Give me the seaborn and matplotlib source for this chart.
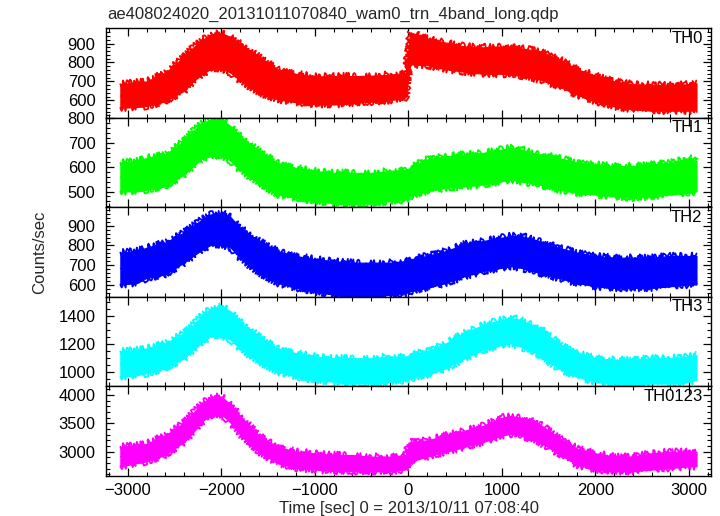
import numpy as np
import pandas as pd
import matplotlib
matplotlib.use("Agg")
import matplotlib.pyplot as plt
from matplotlib.ticker import MultipleLocator
import seaborn as sns

# ---- data (lower / upper envelope) ----
time_sec = [-3080, -2900, -2800, -2600, -2400, -2300, -2200, -2100, -2000, -1900,
            -1800, -1600, -1400, -1200, -1000, -800, -600, -400, -200, -30,
            20, 200, 400, 600, 800, 1000, 1100, 1200, 1400, 1600,
            1800, 2000, 2200, 2400, 2600, 2800, 3000, 3080]

th0_low = [560, 565, 570, 595, 650, 700, 740, 770, 770, 745,
           705, 640, 605, 590, 580, 578, 585, 592, 600, 615,
           790, 785, 765, 750, 740, 740, 735, 730, 710, 675,
           630, 595, 568, 552, 545, 545, 545, 550]
th0_high = [685, 695, 700, 745, 830, 880, 920, 950, 955, 935,
            900, 830, 765, 740, 725, 728, 728, 730, 735, 745,
            960, 925, 905, 885, 880, 885, 880, 875, 860, 820,
            765, 730, 700, 685, 682, 680, 685, 690]

th1_low = [501, 501, 508, 522, 570, 604, 638, 645, 652, 625,
           590, 536, 488, 474, 460, 453, 447, 453, 460, 467,
           481, 501, 515, 522, 529, 542, 549, 542, 529, 508,
           495, 488, 481, 474, 481, 488, 495, 501]
th1_high = [618, 625, 638, 652, 707, 748, 782, 796, 796, 768,
            727, 666, 618, 597, 584, 577, 577, 577, 584, 590,
            597, 632, 645, 652, 659, 673, 679, 673, 652, 638,
            618, 611, 604, 604, 611, 618, 638, 625]

th2_low = [602, 610, 636, 653, 713, 747, 781, 806, 806, 789,
           738, 661, 610, 585, 567, 550, 542, 542, 550, 559,
           567, 585, 610, 644, 670, 687, 695, 687, 661, 636,
           610, 593, 585, 585, 585, 593, 602, 602]
th2_high = [764, 772, 789, 815, 866, 900, 934, 960, 968, 943,
            891, 823, 772, 747, 730, 721, 713, 713, 713, 721,
            730, 747, 772, 806, 823, 840, 849, 849, 823, 789,
            764, 747, 738, 738, 738, 747, 747, 747]

th3_low = [969, 981, 993, 1029, 1101, 1160, 1220, 1268, 1268, 1232,
           1172, 1077, 1005, 969, 945, 933, 921, 921, 933, 945,
           957, 981, 1029, 1101, 1160, 1196, 1208, 1184, 1125, 1029,
           969, 933, 921, 909, 921, 921, 933, 945]
th3_high = [1149, 1160, 1172, 1208, 1280, 1340, 1412, 1460, 1472, 1436,
            1364, 1256, 1172, 1137, 1113, 1101, 1101, 1101, 1113, 1113,
            1125, 1149, 1208, 1280, 1340, 1376, 1388, 1376, 1316, 1208,
            1137, 1101, 1089, 1089, 1101, 1101, 1113, 1125]

th0123_low = [2743, 2800, 2829, 2943, 3171, 3343, 3543, 3657, 3657, 3514,
              3314, 3000, 2800, 2714, 2686, 2657, 2657, 2657, 2657, 2686,
              2829, 2914, 3000, 3086, 3171, 3286, 3314, 3286, 3171, 2971,
              2771, 2686, 2657, 2657, 2686, 2714, 2743, 2743]
th0123_high = [3086, 3114, 3143, 3286, 3514, 3686, 3857, 3971, 3971, 3829,
               3629, 3286, 3086, 3000, 2971, 2943, 2943, 2914, 2914, 2943,
               3171, 3200, 3286, 3371, 3457, 3600, 3629, 3600, 3486, 3257,
               3057, 2971, 2914, 2914, 2971, 3000, 3000, 3000]

band_names = ["TH0", "TH1", "TH2", "TH3", "TH0123"]
band_low = [th0_low, th1_low, th2_low, th3_low, th0123_low]
band_high = [th0_high, th1_high, th2_high, th3_high, th0123_high]
band_colors = ["#ff0000", "#00ff00", "#0000ff", "#00ffff", "#ff00ff"]
y_limits = [(507, 980), (435, 802), (539, 993), (899, 1539), (2572, 4149)]
y_major = [100, 100, 100, 200, 500]
y_minor = [20, 20, 20, 50, 100]

title_text = "ae408024020_20131011070840_wam0_trn_4band_long.qdp"
x_label = "Time [sec] 0 = 2013/10/11 07:08:40"
y_label = "Counts/sec"

# ---- style ----
sns.set_style("ticks")
plt.rcParams["font.family"] = ["Liberation Sans", "DejaVu Sans"]
plt.rcParams["font.size"] = 12
plt.rcParams["axes.linewidth"] = 1.0

fig, axes = plt.subplots(5, 1, sharex=True, figsize=(7.2, 5.16), dpi=100)
fig.subplots_adjust(left=0.147, right=0.9875, top=0.945, bottom=0.0775, hspace=0)

for i, ax in enumerate(axes):
    df = pd.DataFrame({
        "t": list(time_sec) + list(time_sec),
        "rate": list(band_low[i]) + list(band_high[i]),
    })
    sns.lineplot(data=df, x="t", y="rate", ax=ax, estimator="mean",
                 errorbar=("pi", 100), color=band_colors[i], lw=0.8,
                 err_kws={"alpha": 1.0, "linewidth": 0.8,
                          "edgecolor": band_colors[i]})
    # jagged outline of the noisy envelope (edges drawn from the same data)
    n_before = len(ax.lines)
    sns.lineplot(x=time_sec, y=band_low[i], ax=ax, color=band_colors[i], lw=1.3)
    sns.lineplot(x=time_sec, y=band_high[i], ax=ax, color=band_colors[i], lw=1.3)
    for ln in ax.lines[n_before:]:
        ln.set_sketch_params(scale=3.5, length=1.2, randomness=5.0)
    ax.set_xlim(-3235, 3235)
    ax.set_ylim(*y_limits[i])
    ax.set_xlabel("")
    ax.set_ylabel("")
    ax.xaxis.set_major_locator(MultipleLocator(1000))
    ax.xaxis.set_minor_locator(MultipleLocator(200))
    ax.yaxis.set_major_locator(MultipleLocator(y_major[i]))
    ax.yaxis.set_minor_locator(MultipleLocator(y_minor[i]))
    ax.tick_params(which="both", direction="in", top=True, right=True,
                   bottom=True, left=True, colors="black", labelsize=12)
    ax.tick_params(which="major", length=6, width=0.9, pad=7.5)
    ax.tick_params(which="minor", length=3, width=0.8)
    for s in ax.spines.values():
        s.set_color("black")
        s.set_linewidth(1.0)
        s.set_zorder(5)
    ax.text(0.986, 0.975, band_names[i], transform=ax.transAxes,
            ha="right", va="top", fontsize=12, color="black", zorder=6)
    if i < 4:
        ax.tick_params(labelbottom=False)

axes[-1].tick_params(axis="x", pad=5)
fig.text(107 / 720, 1 - 14 / 516, title_text, ha="left", va="center", fontsize=12)
fig.text(409 / 720, 1 - 508 / 516, x_label, ha="center", va="center", fontsize=12)
fig.text(40 / 720, 1 - 252 / 516, y_label, ha="center", va="center",
         rotation=90, fontsize=12)

fig.savefig("out.png", dpi=100)
